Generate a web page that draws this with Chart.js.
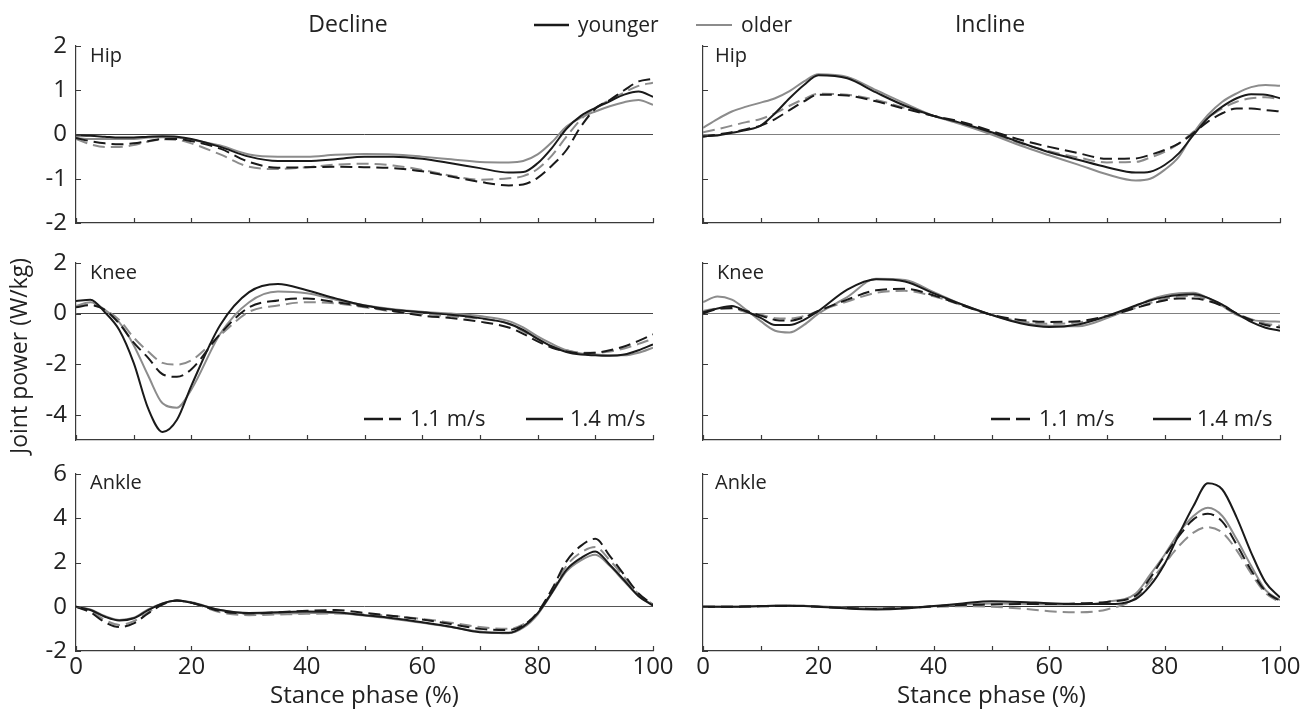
<!DOCTYPE html>
<html>
<head>
<meta charset="utf-8">
<script src="https://cdn.jsdelivr.net/npm/chart.js@4.4.0/dist/chart.umd.min.js"></script>
<style>
  html, body { margin: 0; padding: 0; background: #fff; width: 1309px; height: 712px; overflow: hidden; }
  body { position: relative; font-family: 'Open Sans', sans-serif; color: #222; }
  canvas { position: absolute; }
  .t { position: absolute; white-space: nowrap; line-height: 1; }
  #marks { position: absolute; left: 0; top: 0; }
</style>
</head>
<body>
<canvas id="hipDec"></canvas>
<canvas id="hipInc"></canvas>
<canvas id="kneeDec"></canvas>
<canvas id="kneeInc"></canvas>
<canvas id="ankleDec"></canvas>
<canvas id="ankleInc"></canvas>

<div class="t" style="font-size:23px; left:348px; top:12px; transform:translateX(-50%)">Decline</div>
<div class="t" style="font-size:23px; left:990px; top:12px; transform:translateX(-50%)">Incline</div>
<div class="t" style="font-size:21px; left:578px; top:14px">younger</div>
<div class="t" style="font-size:21px; left:741px; top:14px">older</div>

<div class="t" style="font-size:20px; left:90px; top:45px">Hip</div>
<div class="t" style="font-size:20px; left:715px; top:45px">Hip</div>
<div class="t" style="font-size:20px; left:90px; top:262px">Knee</div>
<div class="t" style="font-size:20px; left:717px; top:262px">Knee</div>
<div class="t" style="font-size:20px; left:90px; top:472px">Ankle</div>
<div class="t" style="font-size:20px; left:715px; top:472px">Ankle</div>

<div class="t" style="font-size:22px; left:410px; top:406px">1.1 m/s</div>
<div class="t" style="font-size:22px; left:570px; top:406px">1.4 m/s</div>
<div class="t" style="font-size:22px; left:1039px; top:406px">1.1 m/s</div>
<div class="t" style="font-size:22px; left:1197px; top:406px">1.4 m/s</div>

<div class="t" style="font-size:23px; left:18px; top:356px; transform:translate(-50%,-50%) rotate(-90deg)">Joint power (W/kg)</div>

<svg id="marks" width="1309" height="712">
  <line x1="534" y1="25" x2="569" y2="25" stroke="#1a1a1a" stroke-width="2.5"/>
  <line x1="696" y1="25" x2="732" y2="25" stroke="#8c8c8c" stroke-width="2"/>
  <line x1="364" y1="419" x2="401" y2="419" stroke="#1a1a1a" stroke-width="2.5" stroke-dasharray="19 6"/>
  <line x1="526" y1="419" x2="563" y2="419" stroke="#1a1a1a" stroke-width="2.5"/>
  <line x1="991" y1="419" x2="1030" y2="419" stroke="#1a1a1a" stroke-width="2.5" stroke-dasharray="19 6"/>
  <line x1="1153" y1="419" x2="1191" y2="419" stroke="#1a1a1a" stroke-width="2.5"/>
</svg>

<script>
// stance phase (%) sample points, finer where the curves change fast
const stance = [0, 2.5, 5, 7.5, 10, 12.5, 15, 17.5, 20, 25, 30, 35, 40, 45, 50, 55, 60, 65, 70, 75, 77.5, 80, 82.5, 85, 87.5, 90, 92.5, 95, 97.5, 100];
const stanceTicks = [0, 20, 40, 60, 80, 100];
const stanceMarks = [0, 10, 20, 30, 40, 50, 60, 70, 80, 90, 100];
const hipTicks = [-2, -1, 0, 1, 2];
const kneeTicks = [-4, -2, 0, 2];
const ankleTicks = [-2, 0, 2, 4, 6];

// Hip, decline
const hipDecYounger14 = [-0.02, -0.03, -0.05, -0.07, -0.07, -0.05, -0.04, -0.05, -0.1, -0.28, -0.5, -0.6, -0.6, -0.56, -0.5, -0.5, -0.55, -0.65, -0.76, -0.86, -0.85, -0.65, -0.3, 0.13, 0.42, 0.6, 0.75, 0.9, 0.97, 0.85];
const hipDecOlder14 = [-0.08, -0.1, -0.1, -0.1, -0.1, -0.07, -0.06, -0.07, -0.12, -0.25, -0.45, -0.5, -0.5, -0.46, -0.44, -0.45, -0.5, -0.56, -0.62, -0.63, -0.6, -0.45, -0.17, 0.18, 0.38, 0.52, 0.64, 0.73, 0.78, 0.67];
const hipDecYounger11 = [-0.08, -0.15, -0.2, -0.22, -0.2, -0.15, -0.1, -0.1, -0.15, -0.32, -0.62, -0.75, -0.74, -0.73, -0.74, -0.76, -0.83, -0.95, -1.07, -1.15, -1.13, -0.98, -0.7, -0.35, 0.18, 0.58, 0.78, 1.0, 1.2, 1.26];
const hipDecOlder11 = [-0.1, -0.22, -0.28, -0.28, -0.24, -0.16, -0.11, -0.12, -0.2, -0.45, -0.73, -0.78, -0.74, -0.68, -0.66, -0.7, -0.8, -0.93, -1.02, -0.99, -0.94, -0.78, -0.47, -0.05, 0.34, 0.6, 0.78, 0.95, 1.1, 1.17];

// Hip, incline
const hipIncYounger14 = [-0.04, -0.02, 0.04, 0.1, 0.2, 0.48, 0.82, 1.12, 1.34, 1.27, 0.95, 0.65, 0.42, 0.25, 0.05, -0.18, -0.4, -0.57, -0.74, -0.86, -0.84, -0.69, -0.42, -0.01, 0.37, 0.63, 0.82, 0.91, 0.9, 0.82];
const hipIncOlder14 = [0.15, 0.35, 0.52, 0.63, 0.72, 0.82, 0.98, 1.2, 1.36, 1.3, 1.0, 0.7, 0.42, 0.22, 0.0, -0.25, -0.47, -0.68, -0.9, -1.04, -1.0, -0.8, -0.5, 0.03, 0.44, 0.74, 0.93, 1.07, 1.12, 1.1];
const hipIncYounger11 = [-0.05, 0.0, 0.05, 0.12, 0.2, 0.35, 0.55, 0.75, 0.9, 0.88, 0.75, 0.58, 0.42, 0.28, 0.08, -0.12, -0.28, -0.42, -0.55, -0.54, -0.46, -0.35, -0.2, 0.03, 0.29, 0.48, 0.59, 0.59, 0.55, 0.52];
const hipIncOlder11 = [0.05, 0.12, 0.2, 0.28, 0.35, 0.48, 0.65, 0.8, 0.92, 0.9, 0.78, 0.6, 0.42, 0.25, 0.02, -0.2, -0.38, -0.52, -0.63, -0.62, -0.52, -0.39, -0.2, 0.06, 0.37, 0.59, 0.74, 0.82, 0.84, 0.8];

// Knee, decline
const kneeDecYounger14 = [0.5, 0.55, 0.05, -0.65, -1.95, -3.75, -4.68, -4.2, -2.85, -0.45, 0.85, 1.17, 0.92, 0.6, 0.32, 0.15, 0.05, -0.05, -0.18, -0.4, -0.65, -1.0, -1.3, -1.52, -1.62, -1.65, -1.67, -1.62, -1.45, -1.22];
const kneeDecOlder14 = [0.3, 0.45, 0.15, -0.35, -1.25, -2.45, -3.55, -3.72, -3.0, -0.8, 0.45, 0.87, 0.8, 0.55, 0.33, 0.17, 0.07, 0.0, -0.1, -0.3, -0.55, -0.9, -1.2, -1.45, -1.58, -1.62, -1.65, -1.65, -1.55, -1.35];
const kneeDecYounger11 = [0.25, 0.33, 0.15, -0.4, -1.15, -1.75, -2.4, -2.5, -2.2, -0.8, 0.25, 0.52, 0.6, 0.45, 0.28, 0.1, -0.08, -0.18, -0.32, -0.55, -0.8, -1.1, -1.35, -1.5, -1.57, -1.55, -1.45, -1.3, -1.08, -0.82];
const kneeDecOlder11 = [0.3, 0.35, 0.15, -0.25, -0.95, -1.5, -1.95, -2.02, -1.85, -0.85, 0.07, 0.32, 0.45, 0.4, 0.25, 0.08, -0.02, -0.1, -0.2, -0.4, -0.7, -1.0, -1.3, -1.45, -1.55, -1.55, -1.5, -1.38, -1.2, -1.0];

// Knee, incline
const kneeIncYounger14 = [0.05, 0.2, 0.3, 0.08, -0.17, -0.45, -0.45, -0.25, 0.1, 0.95, 1.36, 1.27, 0.8, 0.35, -0.05, -0.38, -0.53, -0.43, -0.1, 0.32, 0.52, 0.65, 0.73, 0.76, 0.62, 0.35, 0.0, -0.33, -0.56, -0.68];
const kneeIncOlder14 = [0.45, 0.68, 0.55, 0.15, -0.3, -0.68, -0.75, -0.45, 0.0, 0.65, 1.38, 1.33, 0.85, 0.35, -0.05, -0.35, -0.48, -0.5, -0.18, 0.3, 0.55, 0.72, 0.8, 0.82, 0.62, 0.3, -0.05, -0.25, -0.3, -0.32];
const kneeIncYounger11 = [0.0, 0.18, 0.22, 0.1, -0.08, -0.25, -0.28, -0.15, 0.1, 0.55, 0.92, 0.98, 0.72, 0.32, -0.05, -0.25, -0.33, -0.3, -0.1, 0.22, 0.38, 0.52, 0.6, 0.6, 0.5, 0.3, 0.0, -0.25, -0.45, -0.55];
const kneeIncOlder11 = [0.1, 0.2, 0.2, 0.05, -0.05, -0.18, -0.2, -0.1, 0.1, 0.48, 0.82, 0.9, 0.68, 0.32, -0.05, -0.3, -0.4, -0.35, -0.12, 0.22, 0.42, 0.58, 0.68, 0.7, 0.55, 0.3, 0.0, -0.22, -0.4, -0.48];

// Ankle, decline
const ankleDecYounger14 = [0, -0.15, -0.45, -0.62, -0.52, -0.15, 0.15, 0.28, 0.18, -0.15, -0.28, -0.25, -0.22, -0.25, -0.38, -0.52, -0.7, -0.9, -1.15, -1.18, -0.9, -0.3, 0.65, 1.67, 2.2, 2.5, 1.9, 1.2, 0.48, 0.05];
const ankleDecOlder14 = [0, -0.12, -0.42, -0.6, -0.5, -0.12, 0.15, 0.28, 0.2, -0.15, -0.3, -0.3, -0.28, -0.28, -0.4, -0.55, -0.72, -0.92, -1.12, -1.2, -0.95, -0.35, 0.62, 1.6, 2.1, 2.35, 1.85, 1.15, 0.5, 0.08];
const ankleDecYounger11 = [0, -0.25, -0.7, -0.92, -0.75, -0.3, 0.1, 0.28, 0.18, -0.2, -0.3, -0.25, -0.18, -0.15, -0.28, -0.42, -0.58, -0.78, -1.0, -1.05, -0.85, -0.25, 0.8, 2.05, 2.75, 3.07, 2.3, 1.45, 0.6, 0.1];
const ankleDecOlder11 = [0, -0.2, -0.6, -0.82, -0.65, -0.25, 0.12, 0.28, 0.18, -0.25, -0.38, -0.35, -0.32, -0.3, -0.35, -0.42, -0.55, -0.72, -0.92, -1.0, -0.8, -0.3, 0.7, 1.85, 2.45, 2.7, 2.1, 1.35, 0.58, 0.1];

// Ankle, incline
const ankleIncYounger14 = [0, 0, 0, 0.01, 0.03, 0.05, 0.05, 0.03, 0.0, -0.08, -0.12, -0.08, 0.03, 0.15, 0.25, 0.22, 0.16, 0.12, 0.12, 0.35, 0.95, 1.93, 3.28, 4.55, 5.58, 5.3, 4.03, 2.45, 1.1, 0.42];
const ankleIncOlder14 = [0, 0, 0, 0.01, 0.03, 0.05, 0.06, 0.05, 0.02, -0.04, -0.07, -0.05, 0.02, 0.1, 0.15, 0.14, 0.1, 0.1, 0.22, 0.6, 1.45, 2.35, 3.35, 4.1, 4.47, 4.1, 3.05, 1.85, 0.75, 0.3];
const ankleIncYounger11 = [0, 0, 0, 0.01, 0.02, 0.03, 0.04, 0.03, 0.0, -0.06, -0.1, -0.05, 0.02, 0.08, 0.1, 0.12, 0.12, 0.15, 0.22, 0.5, 1.3, 2.3, 3.2, 3.95, 4.2, 3.85, 2.8, 1.65, 0.7, 0.27];
const ankleIncOlder11 = [0, 0, 0, 0.01, 0.02, 0.04, 0.05, 0.04, 0.0, -0.06, -0.1, -0.06, 0.0, 0.02, 0.0, -0.08, -0.2, -0.25, -0.12, 0.4, 1.15, 1.95, 2.75, 3.35, 3.6, 3.35, 2.55, 1.5, 0.62, 0.2];

const BLACK = '#1a1a1a';
const GRAY = '#8c8c8c';
const AXIS = '#3a3a3a';
const TICK = 5;
const PAD_TOP = 24;

Chart.defaults.font.family = "'Open Sans', sans-serif";
Chart.defaults.color = '#222';

// tick marks pointing into the plot, like the original figure
const innerTicks = {
    id: 'innerTicks',
    afterDraw(chart) {
        const { ctx, chartArea, scales: { x, y } } = chart;
        ctx.save();
        ctx.strokeStyle = AXIS;
        ctx.lineWidth = 1.2;
        ctx.beginPath();
        stanceMarks.forEach(v => {
            const px = Math.round(x.getPixelForValue(v)) + 0.5;
            ctx.moveTo(px, chartArea.bottom);
            ctx.lineTo(px, chartArea.bottom - TICK);
        });
        y.ticks.forEach(t => {
            const py = Math.round(y.getPixelForValue(t.value)) + 0.5;
            ctx.moveTo(chartArea.left, py);
            ctx.lineTo(chartArea.left + TICK, py);
        });
        ctx.stroke();
        ctx.restore();
    }
};

function series(data, color, dashed) {
    return {
        data: data,
        borderColor: color,
        borderWidth: 2,
        borderDash: dashed ? [12, 6] : [],
        pointRadius: 0,
        fill: false,
        cubicInterpolationMode: 'monotone'
    };
}

// plot area: left column x 76..653, right column x 703..1280
const LEFT = { x: 10, w: 670, axisW: 66, padRight: 27, showY: true };
const RIGHT = { x: 660, w: 649, axisW: 43, padRight: 29, showY: false };
const PLOT_H = 177;

function makePanel(id, col, plotTop, bottomH, yTicks, zeroColor, lines) {
    const canvas = document.getElementById(id);
    canvas.width = col.w;
    canvas.height = PAD_TOP + PLOT_H + bottomH;
    canvas.style.left = col.x + 'px';
    canvas.style.top = (plotTop - PAD_TOP) + 'px';
    const showX = bottomH > 30;

    new Chart(canvas, {
        type: 'line',
        data: {
            labels: stance,
            datasets: [
                series(lines[0], BLACK, false),
                series(lines[2], BLACK, true),
                series(lines[1], GRAY, false),
                series(lines[3], GRAY, true)
            ]
        },
        options: {
            responsive: false,
            animation: false,
            events: [],
            layout: { padding: { top: PAD_TOP, right: col.padRight, bottom: 0, left: 0 } },
            plugins: { legend: { display: false }, tooltip: { enabled: false } },
            scales: {
                x: {
                    type: 'linear',
                    min: 0,
                    max: 100,
                    afterBuildTicks: s => { s.ticks = stanceTicks.map(v => ({ value: v })); },
                    ticks: { display: showX, padding: 2, font: { size: 24 }, color: '#222', maxRotation: 0, autoSkip: false },
                    grid: { display: false, drawTicks: false },
                    border: { display: true, color: AXIS, width: 1.2 },
                    title: { display: showX, text: 'Stance phase (%)', font: { size: 24 }, color: '#222', padding: { top: 0, bottom: 0 } },
                    afterFit: s => { s.height = bottomH; }
                },
                y: {
                    type: 'linear',
                    min: yTicks === kneeTicks ? -5 : yTicks[0],
                    max: yTicks[yTicks.length - 1],
                    afterBuildTicks: s => { s.ticks = yTicks.map(v => ({ value: v })); },
                    ticks: { display: col.showY, padding: 9, font: { size: 24 }, color: '#222', callback: v => String(v) },
                    grid: {
                        drawTicks: false,
                        lineWidth: 1,
                        color: c => (c.tick && c.tick.value === 0) ? zeroColor : 'rgba(0,0,0,0)'
                    },
                    border: { display: true, color: AXIS, width: 1.2 },
                    afterFit: s => { s.width = col.axisW; }
                }
            }
        },
        plugins: [innerTicks]
    });
}

makePanel('hipDec', LEFT, 46, 26, hipTicks, '#444',
    [hipDecYounger14, hipDecOlder14, hipDecYounger11, hipDecOlder11]);
makePanel('hipInc', RIGHT, 46, 26, hipTicks, '#808080',
    [hipIncYounger14, hipIncOlder14, hipIncYounger11, hipIncOlder11]);
makePanel('kneeDec', LEFT, 263, 26, kneeTicks, '#444',
    [kneeDecYounger14, kneeDecOlder14, kneeDecYounger11, kneeDecOlder11]);
makePanel('kneeInc', RIGHT, 263, 26, kneeTicks, '#808080',
    [kneeIncYounger14, kneeIncOlder14, kneeIncYounger11, kneeIncOlder11]);
makePanel('ankleDec', LEFT, 474, 60, ankleTicks, '#555',
    [ankleDecYounger14, ankleDecOlder14, ankleDecYounger11, ankleDecOlder11]);
makePanel('ankleInc', RIGHT, 474, 60, ankleTicks, '#333',
    [ankleIncYounger14, ankleIncOlder14, ankleIncYounger11, ankleIncOlder11]);
</script>
</body>
</html>
